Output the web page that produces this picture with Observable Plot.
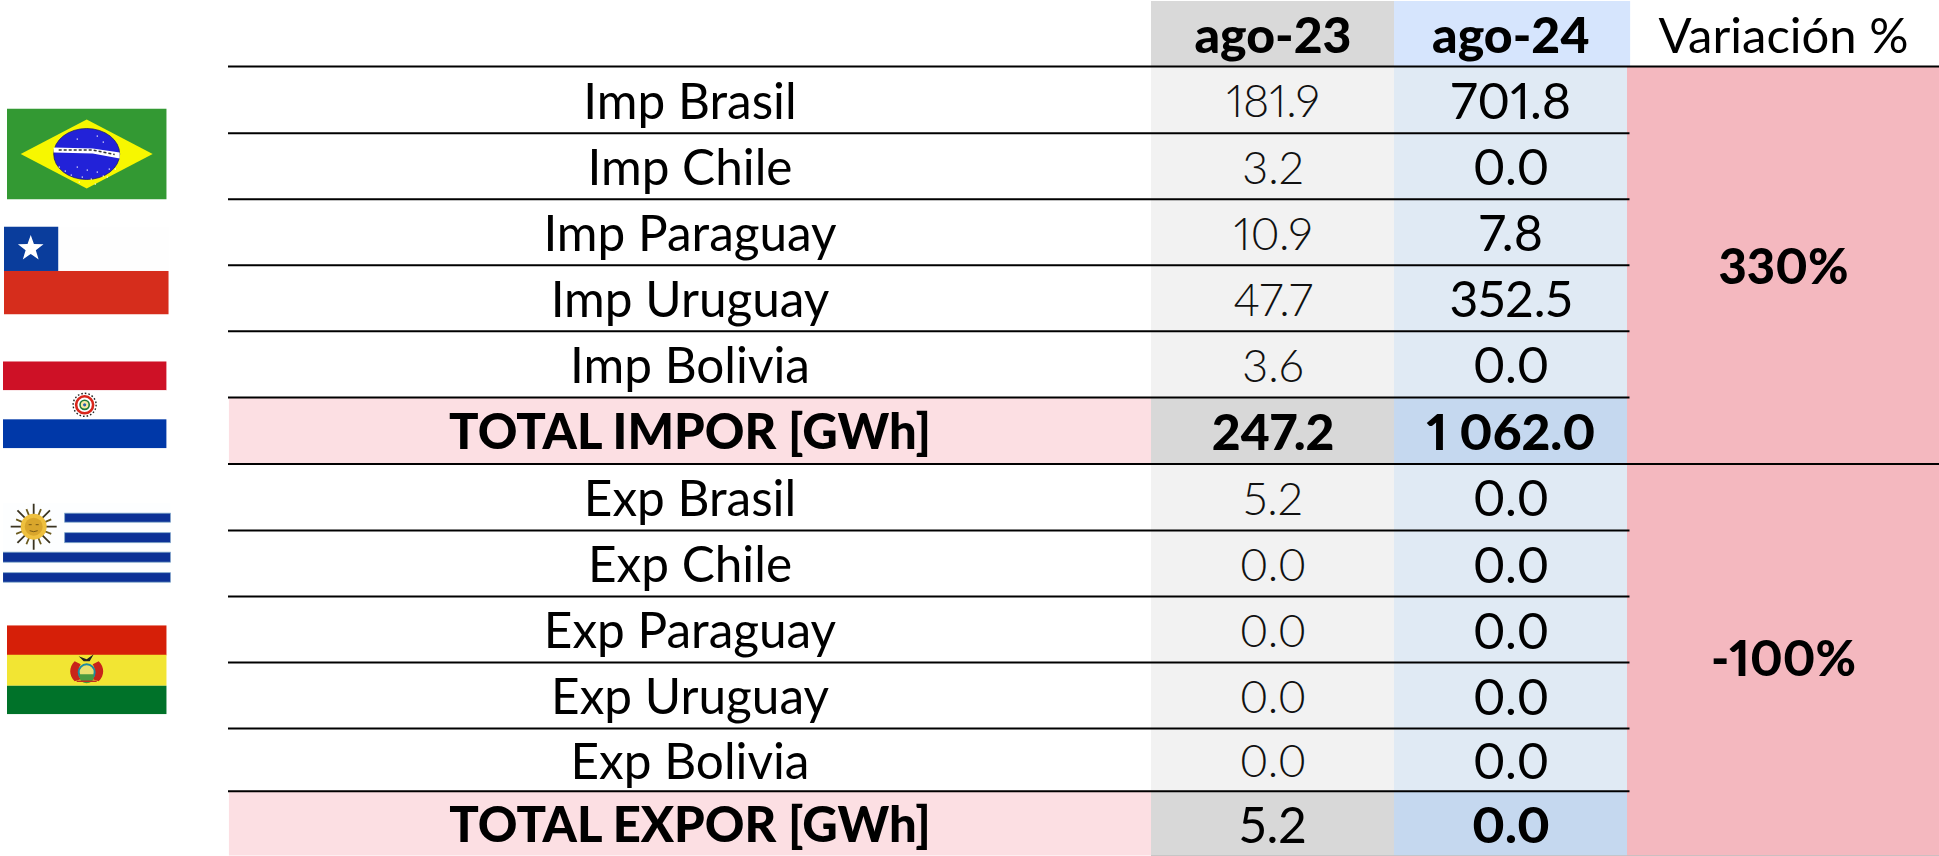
<!DOCTYPE html>
<html><head><meta charset="utf-8">
<style>html,body{margin:0;padding:0;background:#fff}svg{display:block}</style>
<script src="https://cdn.jsdelivr.net/npm/d3@7"></script>
<script src="https://cdn.jsdelivr.net/npm/@observablehq/plot@0.6"></script>
</head><body><div id="chart"></div>
<script>
const rowLabels = ["Imp Brasil","Imp Chile","Imp Paraguay","Imp Uruguay","Imp Bolivia","TOTAL IMPOR [GWh]","Exp Brasil","Exp Chile","Exp Paraguay","Exp Uruguay","Exp Bolivia","TOTAL EXPOR [GWh]"];
const ago23 = [181.9,3.2,10.9,47.7,3.6,247.2,5.2,0,0,0,0,5.2];
const ago24 = [701.8,0,7.8,352.5,0,1062.0,0,0,0,0,0,0];
const headers = ["ago-23","ago-24","Variación %"];
const variation = ["330%","-100%"];
const flagNames = ["Brasil","Chile","Paraguay","Uruguay","Bolivia"];

// scale breakpoints: column index / row index -> pixels
const colEdges = [0,228,1151,1394,1627,1939];
const rowEdges = [1,66,132.7,198.7,264.7,330.7,397,463.5,530,596,662,728,790.7,855.5];
const fmt = d3.formatLocale({decimal:".",thousands:"\u00a0",grouping:[3],currency:["",""]}).format(",.1f");
const FONT = "Lato, 'Open Sans', sans-serif";
const NUMS = "proportional-nums";

const svgUri = (w,h,body) => "data:image/svg+xml;utf8," + encodeURIComponent(`<svg xmlns="http://www.w3.org/2000/svg" width="${w}" height="${h}" viewBox="0 0 ${w} ${h}" preserveAspectRatio="none">${body}</svg>`);
const star = (cx,cy,r,fill) => {let p=[];for(let i=0;i<10;i++){const a=-Math.PI/2+i*Math.PI/5,q=i%2?r*0.4:r;p.push((cx+q*Math.cos(a)).toFixed(1)+","+(cy+q*Math.sin(a)).toFixed(1));}return `<polygon points="${p.join(" ")}" fill="${fill}"/>`;};
let sunRays="";for(let i=0;i<16;i++){const a=i*Math.PI/8;sunRays+=`<line x1="${31+12*Math.cos(a)}" y1="${24+12*Math.sin(a)}" x2="${31+(i%2?19:23)*Math.cos(a)}" y2="${24+(i%2?19:23)*Math.sin(a)}" stroke="${i%2?'#6b5a1e':'#3a3320'}" stroke-width="1.8"/>`;}
const brStars=[[52,58],[58,62],[64,66],[70,58],[75,68],[80,61],[84,70],[90,63],[96,67],[102,60],[108,60],[72,73],[88,75],[100,68],[70,30],[90,27],[96,33]].map(([x,y])=>`<rect x="${x}" y="${y}" width="1.2" height="1.2" fill="#fff"/>`).join("");
const flags = {
 Brasil:{w:160,h:91,body:`<rect width="160" height="91" fill="#339933"/><polygon points="14,45.5 80,11 146,45.5 80,80" fill="#f7f700"/><ellipse cx="80" cy="45.5" rx="33" ry="25.5" fill="#2222d8" stroke="#10106a" stroke-width="0.7"/><path d="M47,39 L86,40 L113,44 L113,50 L86,45 L47,44 Z" fill="#fff"/><path d="M52,41.5 H86 L108,46" stroke="#333" stroke-width="1.6" stroke-dasharray="3 2" fill="none"/>${brStars}`},
 Chile:{w:165,h:88,body:`<rect width="165" height="44.5" fill="#fefefe"/><rect y="44.5" width="165" height="43.5" fill="#d62d1c"/><rect width="54.5" height="44.5" fill="#0a3d9c"/>${star(27,22,13.5,"#fff")}`},
 Paraguay:{w:164,h:87,body:`<rect width="164" height="29" fill="#ce1126"/><rect y="29" width="164" height="29.5" fill="#fff"/><rect y="58" width="164" height="29" fill="#0038a8"/><circle cx="82" cy="43.5" r="11.5" fill="none" stroke="#222" stroke-width="1.4" stroke-dasharray="1.6 2"/><circle cx="82" cy="43.5" r="8.5" fill="#fff" stroke="#d8261c" stroke-width="2.6"/><circle cx="82" cy="43.5" r="4.6" fill="#f6e8a0" stroke="#1d7a3a" stroke-width="1.6"/><circle cx="82" cy="43.5" r="1.6" fill="#2a5fb0"/>`},
 Uruguay:{w:168,h:86,body:`<rect width="168" height="86" fill="#fdfeff"/><g fill="#0c3196" stroke="#7ea7c8" stroke-width="0.8"><rect x="62" y="10.5" width="106" height="9"/><rect x="62" y="30" width="106" height="10"/><rect y="49.5" width="168" height="10"/><rect y="70" width="168" height="9.5"/></g>${sunRays}<circle cx="31" cy="24" r="13" fill="#eec03e"/><circle cx="31" cy="24" r="9" fill="#d9a62c"/><path d="M26,22h3M33,22h3M27,28q4,2 8,0" stroke="#7a5a14" stroke-width="1" fill="none"/>`},
 Bolivia:{w:160,h:89,body:`<rect width="160" height="30" fill="#d61f08"/><rect y="29.5" width="160" height="31" fill="#f2e533"/><rect y="60.5" width="160" height="28.5" fill="#007229"/><path d="M68,36c-6,6 -6,14 0,20l6,-2c-3,-4 -3,-10 0,-15zM92,36c6,6 6,14 0,20l-6,-2c3,-4 3,-10 0,-15z" fill="#c8241a"/><circle cx="80" cy="47" r="8" fill="#e8e070" stroke="#1d8aa0" stroke-width="2"/><path d="M73,49h14v3a7,6 0 0 1 -14,0z" fill="#4a9a40"/><path d="M72,31l8,3l7,-5l-4,7h-6z" fill="#222"/><path d="M70,56l20,0" stroke="#c03020" stroke-width="1.6"/>`}
};
const flagPos = {Brasil:{c:-0.622,r:2.315},Chile:{c:-0.624,r:4.08},Paraguay:{c:-0.631,r:6.11},Uruguay:{c:-0.622,r:8.23},Bolivia:{c:-0.622,r:10.11}};
const flagData = flagNames.map(n => ({n, ...flags[n], ...flagPos[n], src: svgUri(flags[n].w, flags[n].h, flags[n].body)}));

const isTotal = i => i===5 || i===11;
const rows = rowLabels.map((label,i)=>({i,label,a:ago23[i],b:ago24[i],total:isTotal(i),mid:i+1.5}));
const T = {fontFamily:FONT,fontVariant:NUMS,dy:3,fill:"#000"};

const rects = [
 {x1:1,x2:2,y1:0,y2:1,fill:"#d9d9d9"},
 {x1:2,x2:3.01,y1:0,y2:1,fill:"#d6e5fd"},
 {x1:3,x2:4,y1:1,y2:13,fill:"#f4b8bf"},
 ...rows.flatMap(r=>[
   {x1:0.001,x2:1,y1:r.i+1,y2:r.i+2,fill:r.total?"#fcdfe3":"#fff"},
   {x1:1,x2:2,y1:r.i+1,y2:r.i+2,fill:r.total?"#d8d8d8":"#f2f2f2"},
   {x1:2,x2:3,y1:r.i+1,y2:r.i+2,fill:r.total?"#c5d8ef":"#e0eaf4"}
 ])
];
const shortRules = d3.range(2,13).filter(r=>r!==7).map(r=>({r}));
const longRules = [{r:1},{r:7}];

const plot = Plot.plot({
  width:1939,height:856,margin:0,
  style:{background:"#fff",fontFamily:FONT},
  x:{type:"linear",domain:[-1,0,1,2,3,4],range:colEdges,axis:null},
  y:{type:"linear",domain:d3.range(rowEdges.length),range:rowEdges,axis:null},
  marks:[
    Plot.rect(rects,{x1:"x1",x2:"x2",y1:"y1",y2:"y2",fill:"fill"}),
    Plot.ruleY(shortRules,{y:"r",x1:0,x2:3.008,stroke:"#000",strokeWidth:2}),
    Plot.ruleY(longRules,{y:"r",x1:0,x2:4,stroke:"#000",strokeWidth:2}),
    Plot.ruleY([{r:13}],{y:"r",x1:1,x2:4,stroke:"#a0a0a0",strokeWidth:1}),
    Plot.image(flagData,{x:"c",y:"r",width:"w",height:"h",src:"src",preserveAspectRatio:"none"}),
    // header
    Plot.text(headers.slice(0,2),{...T,x:(d,i)=>i+1.5,y:()=>0.5,text:d=>d,fontSize:50,fontWeight:900}),
    Plot.text(headers.slice(2),{...T,x:()=>3.5,y:()=>0.5,text:d=>d,fontSize:49,fontWeight:400}),
    // labels
    Plot.text(rows.filter(r=>!r.total),{...T,x:()=>0.5,y:"mid",text:"label",fontSize:49.5,fontWeight:400}),
    Plot.text(rows.filter(r=>r.total),{...T,x:()=>0.5,y:"mid",text:"label",fontSize:49,fontWeight:900}),
    // values
    Plot.text(rows.filter(r=>!r.total),{...T,x:()=>1.5,y:"mid",text:r=>fmt(r.a),fontSize:45,fontWeight:300,fill:"#111"}),
    Plot.text(rows.filter(r=>!r.total),{...T,x:()=>2.5,y:"mid",text:r=>fmt(r.b),fontSize:50,fontWeight:400}),
    Plot.text(rows.filter(r=>r.i===5),{...T,x:()=>1.5,y:"mid",text:r=>fmt(r.a),fontSize:50,fontWeight:900}),
    Plot.text(rows.filter(r=>r.i===11),{...T,x:()=>1.5,y:"mid",text:r=>fmt(r.a),fontSize:50,fontWeight:400}),
    Plot.text(rows.filter(r=>r.total),{...T,x:()=>2.5,y:"mid",text:r=>fmt(r.b),fontSize:50,fontWeight:900}),
    // variation
    Plot.text(variation,{...T,x:()=>3.5,y:(d,i)=>i?9.92:4,text:d=>d,fontSize:49,fontWeight:900})
  ]
});
document.getElementById("chart").append(plot);
</script>
</body></html>
